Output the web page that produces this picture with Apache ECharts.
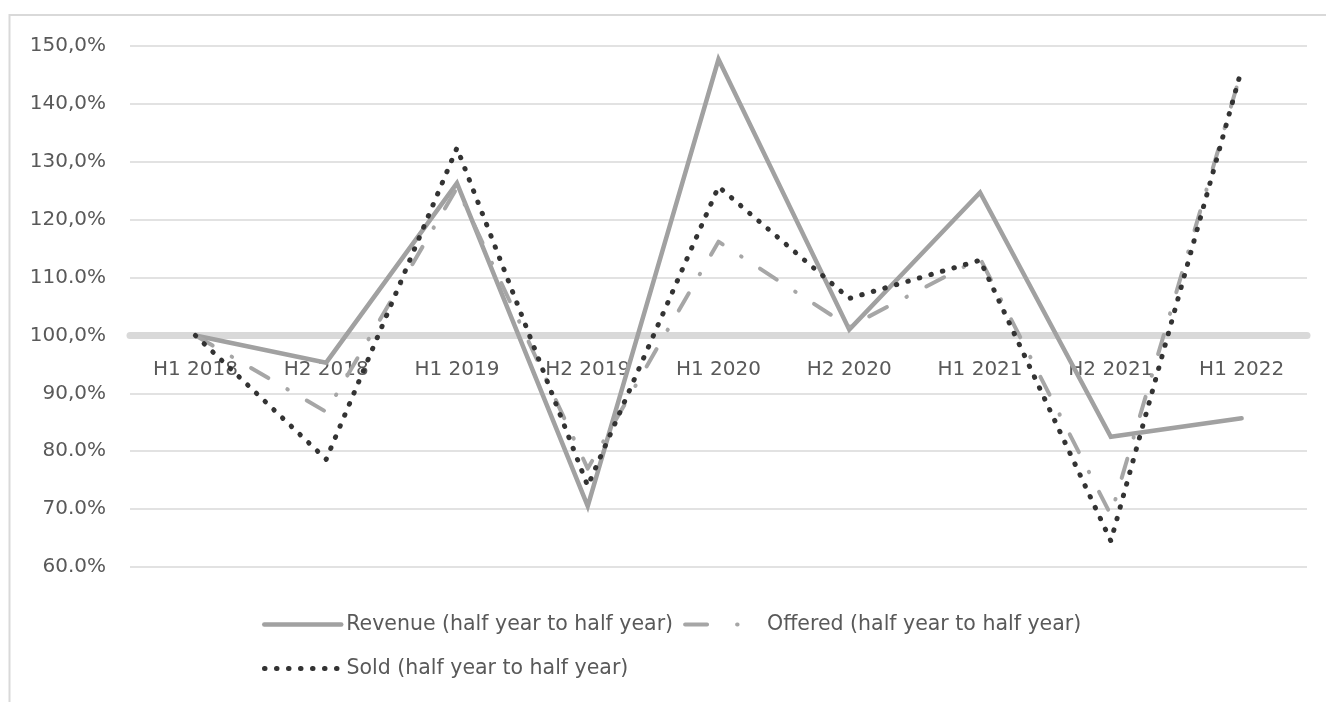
<!DOCTYPE html>
<html>
<head>
<meta charset="utf-8">
<title>Half year to half year</title>
<script src="https://cdn.jsdelivr.net/npm/echarts@6/dist/echarts.min.js"></script>
<style>
  html, body { margin: 0; padding: 0; background: #ffffff; }
  #chart { width: 1326px; height: 702px; }
</style>
</head>
<body>
<div id="chart"></div>
<script>
// Half-year periods on the category axis
const categories = ['H1 2018', 'H2 2018', 'H1 2019', 'H2 2019', 'H1 2020', 'H2 2020', 'H1 2021', 'H2 2021', 'H1 2022'];

// Change against the previous half year, in percent
const revenue = [100.0, 95.3, 126.3, 70.5, 147.7, 101.0, 124.7, 82.5, 85.7];
const offered = [100.0, 86.8, 125.5, 77.0, 116.2, 101.5, 113.3, 69.0, 145.8];
const sold    = [100.0, 78.6, 132.4, 74.0, 125.7, 106.4, 113.0, 64.5, 146.0];

// Value axis ticks and their printed labels
const tickValues = [60, 70, 80, 90, 100, 110, 120, 130, 140, 150];
const tickLabels = ['60.0%', '70.0%', '80.0%', '90,0%', '100,0%', '110.0%', '120,0%', '130,0%', '140,0%', '150,0%'];

const seriesNames = ['Revenue (half year to half year)', 'Offered (half year to half year)', 'Sold (half year to half year)'];

const yMin = tickValues[0];
const yMax = tickValues[tickValues.length - 1];
const crossAt = 100; // the category axis crosses the value axis here

const textColor = '#595959';
const fontFamily = '"DejaVu Sans", "Open Sans", sans-serif';

// line looks shared by the series and their legend keys
const revenueLine = { color: '#a1a1a1', width: 4.5, type: 'solid', cap: 'round', join: 'miter' };
const offeredLine = { color: '#a6a6a6', width: 4, type: [20, 22, 0.5, 22], cap: 'round', join: 'round' };
const soldLine    = { color: '#333333', width: 5, type: [0.5, 11.5], cap: 'round', join: 'round' };
// the legend key of the offered series shows one dash and one dot
const offeredKey  = Object.assign({}, offeredLine, { type: [22, 30, 0.5, 60] });

const gridBox = { left: 130, right: 19, top: 46, bottom: 135 };
const chartHeight = 702;
const gridHeight = chartHeight - gridBox.top - gridBox.bottom;
// shift the category axis up from the bottom edge to the crossing value
const axisShift = -gridHeight * (crossAt - yMin) / (yMax - yMin);

const legendText = { color: textColor, fontSize: 20.5, fontFamily: fontFamily };
const hiddenSymbol = { opacity: 0 };

const chart = echarts.init(document.getElementById('chart'), null, { renderer: 'canvas' });

chart.setOption({
  backgroundColor: '#ffffff',
  animation: false,
  graphic: [{
    type: 'rect',
    silent: true,
    z: -10,
    shape: { x: 9.5, y: 15, width: 1400, height: 800 },
    style: { fill: 'none', stroke: '#d9d9d9', lineWidth: 2 }
  }],
  grid: gridBox,
  legend: [{
    data: [
      { name: seriesNames[0], lineStyle: revenueLine, itemStyle: hiddenSymbol },
      { name: seriesNames[1], lineStyle: offeredKey, itemStyle: hiddenSymbol }
    ],
    left: 257,
    top: 609,
    itemWidth: 77,
    itemHeight: 14,
    itemGap: 10,
    textStyle: legendText
  }, {
    data: [
      { name: seriesNames[2], lineStyle: soldLine, itemStyle: hiddenSymbol }
    ],
    left: 257,
    top: 653,
    itemWidth: 77,
    itemHeight: 14,
    textStyle: legendText
  }],
  xAxis: {
    type: 'category',
    data: categories,
    boundaryGap: true,
    offset: axisShift,
    axisLine: { show: true, onZero: false, lineStyle: { color: '#d9d9d9', width: 7 } },
    axisTick: { show: false },
    axisLabel: { color: textColor, fontSize: 20, fontFamily: fontFamily, margin: 24 },
    splitLine: { show: false }
  },
  yAxis: {
    type: 'value',
    min: yMin,
    max: yMax,
    interval: 10,
    axisLine: { show: false },
    axisTick: { show: false },
    axisLabel: {
      color: textColor,
      fontSize: 20,
      fontFamily: fontFamily,
      margin: 24,
      formatter: function (v) {
        const i = tickValues.indexOf(Math.round(v));
        return i >= 0 ? tickLabels[i] : '';
      }
    },
    splitLine: { lineStyle: { color: '#d9d9d9', width: 1.5 } }
  },
  series: [{
    name: seriesNames[0],
    type: 'line',
    data: revenue,
    symbol: 'none',
    showSymbol: false,
    lineStyle: revenueLine,
    itemStyle: { color: revenueLine.color }
  }, {
    name: seriesNames[1],
    type: 'line',
    data: offered,
    symbol: 'none',
    showSymbol: false,
    lineStyle: offeredLine,
    itemStyle: { color: offeredLine.color }
  }, {
    name: seriesNames[2],
    type: 'line',
    data: sold,
    symbol: 'none',
    showSymbol: false,
    lineStyle: soldLine,
    itemStyle: { color: soldLine.color }
  }]
});
</script>
</body>
</html>
